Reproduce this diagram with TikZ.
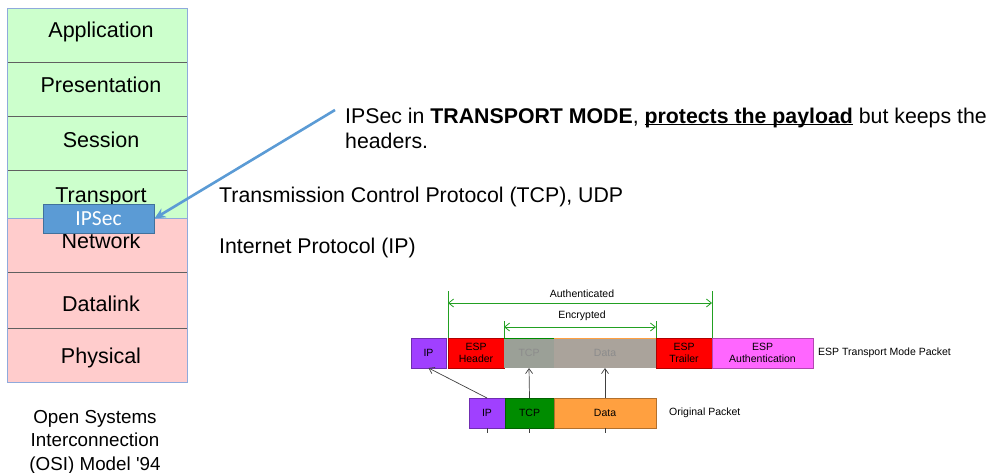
\documentclass[tikz,border=0pt]{standalone}
\usepackage{fontspec}
\setmainfont{Liberation Sans}
\newfontfamily\calib{Carlito}
\usetikzlibrary{arrows.meta}
\newcommand\myuline[1]{\setbox0\hbox{#1}\rlap{\rule[-2.2pt]{\wd0}{1.2pt}}\box0\relax}
\definecolor{osigreen}{HTML}{CCFFCC}
\definecolor{osipink}{HTML}{FFCCCC}
\definecolor{osiedge}{HTML}{8FAADC}
\definecolor{osiline}{HTML}{606060}
\definecolor{ipsecfill}{HTML}{5B9BD5}
\definecolor{ipsecedge}{HTML}{41719C}
\definecolor{pkpurple}{HTML}{A040FF}
\definecolor{pkred}{HTML}{FF0000}
\definecolor{pkgreen}{HTML}{008C00}
\definecolor{pkorange}{HTML}{FFA040}
\definecolor{pkmagenta}{HTML}{FF66FF}
\definecolor{pkgreyA}{HTML}{9BA097}
\definecolor{pkgreyB}{HTML}{AAA39B}
\definecolor{brgreen}{HTML}{22A022}
\tikzset{
  layer/.style={draw=none, minimum width=180pt, inner sep=0pt, outer sep=0pt},
  laytext/.style={anchor=base, font=\fontsize{21.5}{24}\selectfont},
  bigtext/.style={anchor=base west, font=\fontsize{21.3}{25}\selectfont, inner sep=0pt},
  pk/.style={draw=#1!70!black, fill=#1, minimum height=30pt, inner sep=0pt, outer sep=0pt, align=center,
    font=\fontsize{10.5}{11.5}\selectfont, line width=0.6pt},
  smalltext/.style={font=\fontsize{10.5}{12}\selectfont, inner sep=0pt},
  uparrow/.style={draw=black!75, line width=0.7pt, -{Straight Barb[length=5pt,width=7pt]}},
  brline/.style={draw=brgreen, line width=0.8pt},
  brarrow/.style={draw=brgreen, line width=0.8pt, {Straight Barb[length=5pt,width=8pt]}-{Straight Barb[length=5pt,width=8pt]}},
}
\begin{document}
\begin{tikzpicture}[x=1pt, y=-1pt]
\useasboundingbox (0,0) rectangle (1000,472);
% OSI stack
\node[layer, fill=osigreen, minimum height=210pt] (green) at (97.5,113) {};
\node[layer, fill=osipink, minimum height=164pt] (pink) at (97.5,300) {};
\draw[osiline, line width=0.8pt] (7.5,62) -- (187.5,62) (7.5,116) -- (187.5,116) (7.5,170) -- (187.5,170)
  (7.5,272) -- (187.5,272) (7.5,328) -- (187.5,328);
\draw[osiedge, line width=0.8pt] (green.north west) rectangle (green.south east);
\draw[osiedge, line width=0.8pt] (pink.north west) rectangle (pink.south east);
\node[laytext] (tapp) at (101,37) {Application};
\node[laytext] (tpres) at (101,92) {Presentation};
\node[laytext] (tsess) at (101,147) {Session};
\node[laytext] (ttrans) at (101,202) {Transport};
\node[laytext] (tnet) at (101,248) {Network};
\node[laytext] (tdata) at (101,311) {Datalink};
\node[laytext] (tphys) at (101,363) {Physical};
\node[draw=ipsecedge, fill=ipsecfill, line width=1pt, minimum width=111pt, minimum height=29pt, inner sep=0pt,
  text=white, font=\calib\fontsize{21.5}{22}\selectfont] (ipsec) at (98.5,218.5) {IPSec};
\node[align=center, font=\fontsize{18.8}{23.5}\selectfont, anchor=base, inner sep=0pt] (cap) at (95,470)
  {Open Systems\\Interconnection\\(OSI) Model \textquotesingle94};
% arrow to IPSec
\coordinate (arrstart) at (335,110);
\draw[ipsecfill, line width=2.6pt, -{Stealth[length=11pt,width=10pt]}] (arrstart) -- (ipsec.east);
% texts
\node[bigtext] (t1) at (345,123) {IPSec in \textbf{TRANSPORT MODE}, \myuline{\textbf{protects the payload}} but keeps the};
\node[bigtext] (t2) at (345,148) {headers.};
\node[bigtext] (t3) at (219,202) {Transmission Control Protocol (TCP), UDP};
\node[bigtext] (t4) at (219,253) {Internet Protocol (IP)};
% ESP packet
\node[pk=pkpurple, minimum width=35pt] (ip1) at (428.5,353) {IP};
\node[pk=pkred, minimum width=56pt] (esph) at (476,353) {ESP\\Header};
\node[pk=pkgreyA, draw=none, minimum width=50pt, text=black!45] (tcp1) at (529,353) {TCP};
\node[pk=pkgreyB, draw=none, minimum width=102pt, text=black!45] (data1) at (605,353) {Data};
\draw[pkgreen, line width=0.8pt] (tcp1.north west) -- (tcp1.north east);
\draw[pkorange, line width=0.8pt] (data1.north west) -- (data1.north east);
\node[pk=pkred, minimum width=56pt] (espt) at (684,353) {ESP\\Trailer};
\node[pk=pkmagenta, minimum width=101pt] (espa) at (762.5,353) {ESP\\Authentication};
\node[smalltext, anchor=west] (lbl1) at (818,353) {ESP Transport Mode Packet};
% original packet
\node[pk=pkpurple, minimum width=36pt] (ip2) at (487,413) {IP};
\node[pk=pkgreen, minimum width=49pt] (tcp2) at (529.5,413) {TCP};
\node[pk=pkorange, minimum width=102pt] (data2) at (605,413) {Data};
\node[smalltext, anchor=west] (lbl2) at (669,413) {Original Packet};
% arrows
\draw[uparrow] (ip2.north) -- (ip1.south);
\draw[uparrow] (tcp2.north) -- (tcp1.south);
\draw[uparrow] (data2.north) -- (data1.south);
\draw[draw=black!75, line width=0.7pt] (ip2.south) -- ++(0,5) (tcp2.south) -- ++(0,5) (data2.south) -- ++(0,5);
% brackets
\coordinate (a1) at (esph.north west |- 0,291);
\coordinate (a2) at (espt.north east |- 0,291);
\draw[brline] (esph.north west) -- (a1);
\draw[brline] (espt.north east) -- (a2);
\draw[brarrow] (esph.north west |- 0,303) -- (espt.north east |- 0,303);
\node[smalltext] (lauth) at (582,294) {Authenticated};
\coordinate (e1) at (tcp1.north west |- 0,321);
\coordinate (e2) at (data1.north east |- 0,321);
\draw[brline] (tcp1.north west) -- (e1);
\draw[brline] (data1.north east) -- (e2);
\draw[brarrow] (tcp1.north west |- 0,327) -- (data1.north east |- 0,327);
\node[smalltext] (lenc) at (582,316) {Encrypted};
\end{tikzpicture}
\end{document}
